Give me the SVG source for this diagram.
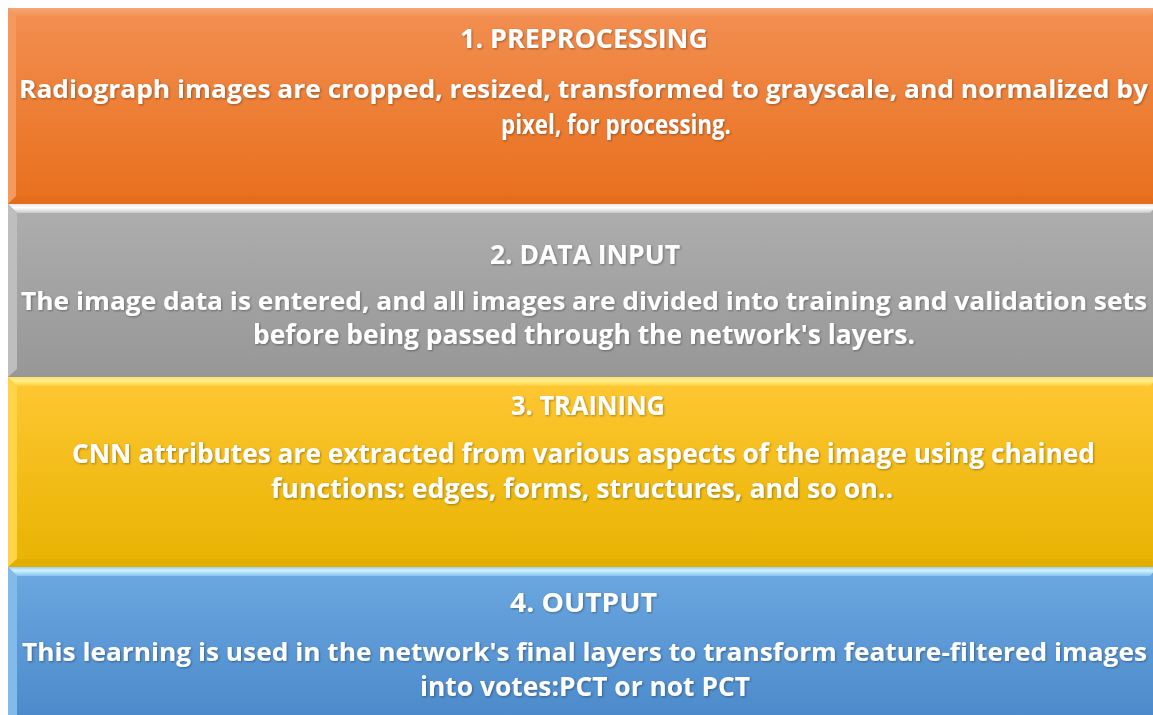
<svg xmlns="http://www.w3.org/2000/svg" width="1153" height="715" viewBox="0 0 1153 715">
<defs>
<linearGradient id="gO" x1="0" y1="0" x2="0" y2="1"><stop offset="0" stop-color="#F28F52"/><stop offset="1" stop-color="#E86F1C"/></linearGradient>
<linearGradient id="gG" x1="0" y1="0" x2="0" y2="1"><stop offset="0" stop-color="#AEAEAE"/><stop offset="1" stop-color="#979797"/></linearGradient>
<linearGradient id="gY" x1="0" y1="0" x2="0" y2="1"><stop offset="0" stop-color="#FFC734"/><stop offset="1" stop-color="#E8B300"/></linearGradient>
<linearGradient id="gB" x1="0" y1="0" x2="0" y2="1"><stop offset="0" stop-color="#6CA8E0"/><stop offset="1" stop-color="#4A88CA"/></linearGradient>
<linearGradient id="tO" x1="0" y1="0" x2="0" y2="1"><stop offset="0" stop-color="#F6A674"/><stop offset="1" stop-color="#F39458"/></linearGradient>
<linearGradient id="tG" x1="0" y1="0" x2="0" y2="1"><stop offset="0" stop-color="#E6E6E6"/><stop offset="0.4" stop-color="#FFFFFF"/><stop offset="1" stop-color="#C8C8C8"/></linearGradient>
<linearGradient id="tY" x1="0" y1="0" x2="0" y2="1"><stop offset="0" stop-color="#FFE070"/><stop offset="0.4" stop-color="#FFF08A"/><stop offset="1" stop-color="#FFD040"/></linearGradient>
<linearGradient id="tB" x1="0" y1="0" x2="0" y2="1"><stop offset="0" stop-color="#9CCFF4"/><stop offset="0.4" stop-color="#CFF2FF"/><stop offset="1" stop-color="#88C2EE"/></linearGradient>
<filter id="sh" x="-5%" y="-20%" width="110%" height="140%"><feDropShadow dx="1" dy="1" stdDeviation="0.8" flood-color="#000" flood-opacity="0.35"/></filter>
</defs>
<style>
text{font-family:"Open Sans","Noto Sans","Liberation Sans",sans-serif;font-weight:bold;font-size:26.5px;fill:#FFFFFF;text-anchor:middle}
.sm{font-size:25.5px}
.t{filter:url(#sh)}
.lo{fill:#F59A5C}.lg{fill:#BEBEBE}.ly{fill:#FFD448}.lb{fill:#82BAEA}
.bo{fill:#DE6A18}.by{fill:#DCA800}
</style>
<rect width="1153" height="715" fill="#FFFFFF"/>
<g id="node1">
<rect x="8" y="8" width="1150" height="196" fill="url(#gO)"/>
<polygon points="8,8 1158,8 1150,16 16,16" fill="url(#tO)"/>
<polygon points="8,8 16,16 16,196 8,204" class="lo"/>
<polygon points="8,204 16,196 1150,196 1158,204" class="bo" opacity="0.5"/>
<g class="t">
<text x="584" y="48" textLength="248" lengthAdjust="spacingAndGlyphs">1. PREPROCESSING</text>
<text class="sm" x="583.5" y="98" textLength="1129" lengthAdjust="spacingAndGlyphs">Radiograph images are cropped, resized, transformed to grayscale, and normalized by</text>
<text x="616" y="134" textLength="230" lengthAdjust="spacingAndGlyphs">pixel, for processing.</text>
</g>
</g>
<g id="node2">
<rect x="8" y="204" width="1150" height="173" fill="url(#gG)"/>
<polygon points="8,204 1158,204 1150,213 17,213" fill="url(#tG)"/>
<polygon points="8,204 17,213 17,369 8,377" class="lg"/>
<g class="t">
<text x="585" y="264" textLength="190" lengthAdjust="spacingAndGlyphs">2. DATA INPUT</text>
<text class="sm" x="584" y="310" textLength="1126" lengthAdjust="spacingAndGlyphs">The image data is entered, and all images are divided into training and validation sets</text>
<text x="584" y="344" textLength="662" lengthAdjust="spacingAndGlyphs">before being passed through the network's layers.</text>
</g>
</g>
<g id="node3">
<rect x="8" y="377" width="1150" height="190" fill="url(#gY)"/>
<polygon points="8,377 1158,377 1150,386 17,386" fill="url(#tY)"/>
<polygon points="8,377 17,386 17,559 8,567" class="ly"/>
<polygon points="8,567 17,559 1150,559 1158,567" class="by" opacity="0.5"/>
<g class="t">
<text x="588" y="415" textLength="154" lengthAdjust="spacingAndGlyphs">3. TRAINING</text>
<text x="583.5" y="463" textLength="1023" lengthAdjust="spacingAndGlyphs">CNN attributes are extracted from various aspects of the image using chained</text>
<text x="582" y="498" textLength="622" lengthAdjust="spacingAndGlyphs">functions: edges, forms, structures, and so on..</text>
</g>
</g>
<g id="node4">
<rect x="8" y="567" width="1150" height="160" fill="url(#gB)"/>
<polygon points="8,567 1158,567 1150,576 17,576" fill="url(#tB)"/>
<polygon points="8,567 17,576 17,720 8,728" class="lb"/>
<g class="t">
<text x="583.5" y="612" textLength="147" lengthAdjust="spacingAndGlyphs">4. OUTPUT</text>
<text class="sm" x="584.5" y="661" textLength="1125" lengthAdjust="spacingAndGlyphs">This learning is used in the network's final layers to transform feature-filtered images</text>
<text x="585" y="696" textLength="330" lengthAdjust="spacingAndGlyphs">into votes:PCT or not PCT</text>
</g>
</g>
<g id="connectors"/>
</svg>
